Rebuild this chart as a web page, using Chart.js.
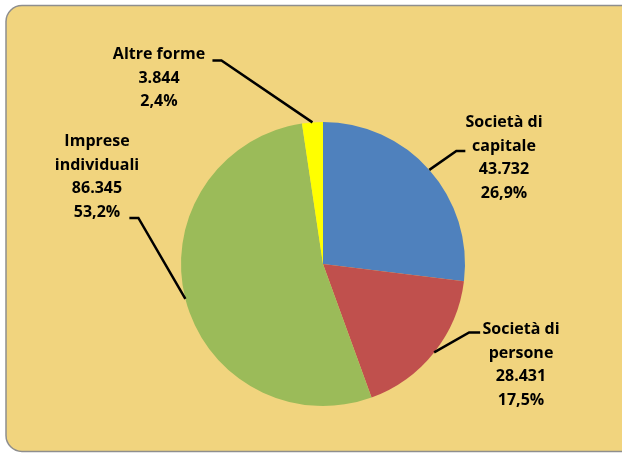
<!DOCTYPE html>
<html>
<head>
<meta charset="utf-8">
<script src="https://cdn.jsdelivr.net/npm/chart.js@4"></script>
<style>
  html, body { margin: 0; padding: 0; background: #fff; }
  #wrap { width: 622px; height: 454px; position: relative; }
</style>
</head>
<body>
<div id="wrap"><canvas id="pie" width="622" height="454"></canvas></div>
<script>
// dati
const categories = [["Società di", "capitale"], ["Società di", "persone"], ["Imprese", "individuali"], ["Altre forme"]];
const values = [43732, 28431, 86345, 3844];
const colors = ["#4F81BD", "#C0504D", "#9BBB59", "#FFFF00"];

// posizione etichette (rispetto al centro torta) e linee guida
const labelLayout = [
  { box: [181, -106], elbow: [27, -19], tail: 9 },
  { box: [198, 101], elbow: [35, -20], tail: 11 },
  { box: [-226, -87], elbow: [-47, -81], tail: -9 },
  { box: [-164, -186], elbow: [-91, -62], tail: -9 }
];

function fmtNum(n) {
  return String(n).replace(/\B(?=(\d{3})+(?!\d))/g, ".");
}
function fmtPct(v, tot) {
  return (v / tot * 100).toFixed(1).replace(".", ",") + "%";
}

const panelPlugin = {
  id: "panel",
  beforeDraw(chart) {
    const c = chart.ctx;
    c.save();
    c.beginPath();
    c.roundRect(6, 5.5, 660, 446, 16);
    c.fillStyle = "#F1D47E";
    c.fill();
    c.lineWidth = 1.5;
    c.strokeStyle = "#8E8E8E";
    c.stroke();
    c.restore();
  }
};

const labelPlugin = {
  id: "pieLabels",
  afterDatasetsDraw(chart) {
    const c = chart.ctx;
    const meta = chart.getDatasetMeta(0);
    const tot = values.reduce((a, b) => a + b, 0);
    c.save();
    meta.data.forEach((arc, i) => {
      const p = arc.getProps(["x", "y", "startAngle", "endAngle", "outerRadius"], true);
      const mid = (p.startAngle + p.endAngle) / 2;
      const ax = p.x + Math.cos(mid) * p.outerRadius;
      const ay = p.y + Math.sin(mid) * p.outerRadius;
      const L = labelLayout[i];
      const ex = ax + L.elbow[0], ey = ay + L.elbow[1];
      c.beginPath();
      c.moveTo(ax, ay);
      c.lineTo(ex, ey);
      c.lineTo(ex + L.tail, ey);
      c.lineWidth = 2.5;
      c.strokeStyle = "#000";
      c.stroke();

      const lines = categories[i].concat([fmtNum(values[i]), fmtPct(values[i], tot)]);
      const lh = 23.5;
      const bx = p.x + L.box[0];
      const by = p.y + L.box[1] - (lines.length - 1) * lh / 2;
      c.fillStyle = "#000";
      c.font = "bold 16px 'Open Sans', sans-serif";
      c.textAlign = "center";
      c.textBaseline = "middle";
      lines.forEach((t, k) => c.fillText(t, bx, by + k * lh));
    });
    c.restore();
  }
};

new Chart(document.getElementById("pie"), {
  type: "pie",
  data: {
    labels: categories.map(c => c.join(" ")),
    datasets: [{
      data: values,
      backgroundColor: colors,
      borderWidth: 0
    }]
  },
  options: {
    responsive: false,
    animation: false,
    layout: { padding: { top: 122, bottom: 48, left: 181, right: 157 } },
    plugins: {
      legend: { display: false },
      tooltip: { enabled: false }
    }
  },
  plugins: [panelPlugin, labelPlugin]
});
</script>
</body>
</html>
